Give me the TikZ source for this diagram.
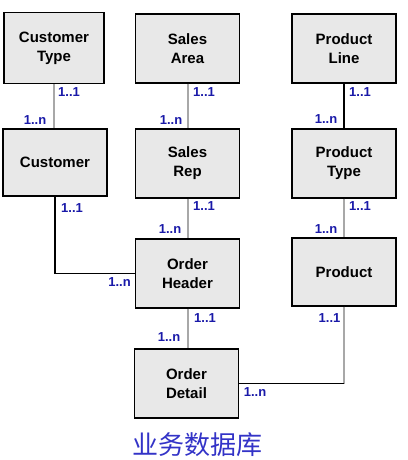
\documentclass[tikz,border=0pt]{standalone}
\usepackage{fontspec}
\setmainfont{Liberation Sans}
\newfontfamily\cjkfont{Noto Sans CJK SC}
\definecolor{BoxClr}{rgb}{0.91,0.91,0.91}
\definecolor{CardClr}{rgb}{0.1,0.1,0.66}
\definecolor{LinkClr}{rgb}{0.66,0.66,0.66}
\definecolor{TitleClr}{rgb}{0.2,0.2,0.78}

\begin{document}
\begin{tikzpicture}[x=1pt,y=-1pt,
  entity/.style={draw=black,line width=1.3pt,fill=BoxClr,minimum width=104pt,
    minimum height=69pt,inner sep=0pt,align=center,
    font=\fontsize{15}{19}\selectfont\bfseries},
  card/.style={text=CardClr,inner sep=0pt,font=\fontsize{13}{15}\selectfont\bfseries},
  greylink/.style={draw=LinkClr,line width=2pt},
  blacklink/.style={draw=black,line width=1.1pt}]
\useasboundingbox (0,0) rectangle (407,460);

% entities
\node[entity,minimum width=100pt,minimum height=71pt] (CT) at (54,48) {Customer\\Type};
\node[entity] (SA) at (187.5,48.5) {Sales\\Area};
\node[entity] (PL) at (344,48.5) {Product\\Line};
\node[entity,minimum height=67pt] (CU) at (55,162.5) {Customer};
\node[entity] (SR) at (187.5,163.5) {Sales\\Rep};
\node[entity] (PT) at (344,163.5) {Product\\Type};
\node[entity] (OH) at (187.5,273.5) {Order\\Header};
\node[entity,minimum height=68pt] (PR) at (344,272) {Product};
\node[entity] (OD) at (186.5,383.5) {Order\\Detail};

\coordinate (PD) at (PR.south |- OD.east);

% links
\draw[greylink] (CT.south) -- (CT.south |- CU.north);
\draw[greylink] (SA.south) -- (SR.north);
\draw[blacklink] (PL.south) -- (PT.north);
\draw[greylink] (SR.south) -- (OH.north);
\draw[greylink] (PT.south) -- (PR.north);
\draw[blacklink] (CU.south) |- (OH.west);
\draw[greylink] (OH.south) -- (OH.south |- OD.north);
\draw[greylink] (PR.south) -- (PD);
\draw[blacklink] (PD) -- (OD.east);

% cardinalities
\node[card] (c1) at (69,92) {1..1};
\node[card] (c2) at (35,120) {1..n};
\node[card] (c3) at (204,92) {1..1};
\node[card] (c4) at (171,120) {1..n};
\node[card] (c5) at (360,92) {1..1};
\node[card] (c6) at (326,119) {1..n};
\node[card] (c7) at (72,208) {1..1};
\node[card] (c8) at (204,206) {1..1};
\node[card] (c9) at (170,229) {1..n};
\node[card] (c10) at (360,206) {1..1};
\node[card] (c11) at (326,229) {1..n};
\node[card] (c12) at (119.5,282) {1..n};
\node[card] (c13) at (205,318) {1..1};
\node[card] (c14) at (169,337) {1..n};
\node[card] (c15) at (329.5,318) {1..1};
\node[card] (c16) at (255,392) {1..n};

\node[text=TitleClr,inner sep=0pt,font=\cjkfont\fontsize{26}{30}\selectfont] (title) at (197.5,445) {业务数据库};

\end{tikzpicture}
\end{document}
